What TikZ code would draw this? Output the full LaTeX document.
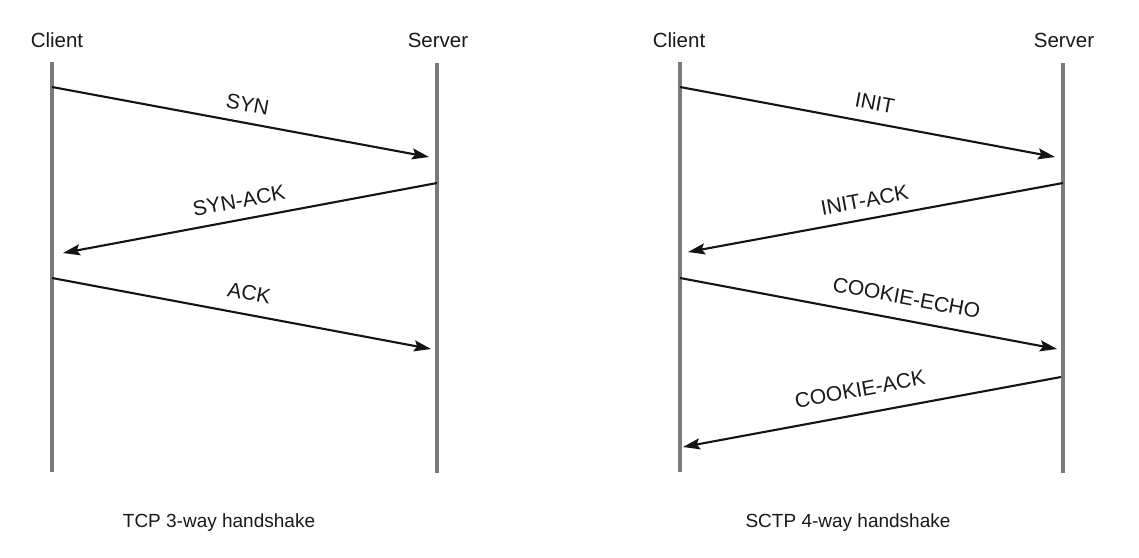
\documentclass[tikz,border=0pt]{standalone}
\usepackage{fontspec}
\setmainfont{Liberation Sans}
\usetikzlibrary{arrows.meta}
\tikzset{
  lifeline/.style={draw=black!52, line width=3.2pt},
  msg/.style={draw=black!92, line width=2.1pt, -{Stealth[length=17pt,width=11pt,inset=3pt]}},
  msglabel/.style={sloped, inner sep=0pt, text=black!90, font=\fontsize{21}{24}\selectfont},
  header/.style={anchor=base, inner sep=0pt, text=black!90, font=\fontsize{20.5}{24}\selectfont},
  caption/.style={anchor=base, inner sep=0pt, text=black!90, font=\fontsize{19}{22}\selectfont}
}
\begin{document}
\begin{tikzpicture}[x=1pt,y=-1pt]
\useasboundingbox (0,0) rectangle (1139,557);
\fill[white] (0,0) rectangle (1139,557);

% ---------- TCP ----------
\coordinate (c1t) at (52,62);  \coordinate (c1b) at (52,472);
\coordinate (s1t) at (437,63); \coordinate (s1b) at (437,473);
\draw[lifeline] (c1t) -- (c1b);
\draw[lifeline] (s1t) -- (s1b);
\node[header] (c1h) at (57,47) {Client};
\node[header] (s1h) at (438,47) {Server};

\coordinate (syn0) at (52,87);   \coordinate (syn1) at (429,157);
\coordinate (sa0) at (437,183);  \coordinate (sa1) at (63,253);
\coordinate (ack0) at (52,278);  \coordinate (ack1) at (431,349);
\draw[msg] (syn0) -- node[msglabel, pos=0.51, above=10pt] (synl) {SYN} (syn1);
\draw[msg] (sa0) -- node[msglabel, pos=0.52, above=10.5pt] (sal) {SYN-ACK} (sa1);
\draw[msg] (ack0) -- node[msglabel, pos=0.51, above=13pt] (ackl) {ACK} (ack1);

\node[caption] (cap1) at (219,527) {TCP 3-way handshake};

% ---------- SCTP ----------
\coordinate (c2t) at (680,62);  \coordinate (c2b) at (680,472);
\coordinate (s2t) at (1063,63); \coordinate (s2b) at (1063,473);
\draw[lifeline] (c2t) -- (c2b);
\draw[lifeline] (s2t) -- (s2b);
\node[header] (c2h) at (679,47) {Client};
\node[header] (s2h) at (1064,47) {Server};

\coordinate (in0) at (680,87);    \coordinate (in1) at (1055,157);
\coordinate (ia0) at (1063,183);  \coordinate (ia1) at (688,252);
\coordinate (ce0) at (680,278);   \coordinate (ce1) at (1057,349);
\coordinate (ca0) at (1061,377);  \coordinate (ca1) at (683,447);
\draw[msg] (in0) -- node[msglabel, pos=0.51, above=11.5pt] (inl) {INIT} (in1);
\draw[msg] (ia0) -- node[msglabel, pos=0.52, above=10.5pt] (ial) {INIT-ACK} (ia1);
\draw[msg] (ce0) -- node[msglabel, pos=0.59, above=14pt] (cel) {COOKIE-ECHO} (ce1);
\draw[msg] (ca0) -- node[msglabel, pos=0.52, above=16pt] (cal) {COOKIE-ACK} (ca1);

\node[caption] (cap2) at (848,527) {SCTP 4-way handshake};
\end{tikzpicture}
\end{document}
